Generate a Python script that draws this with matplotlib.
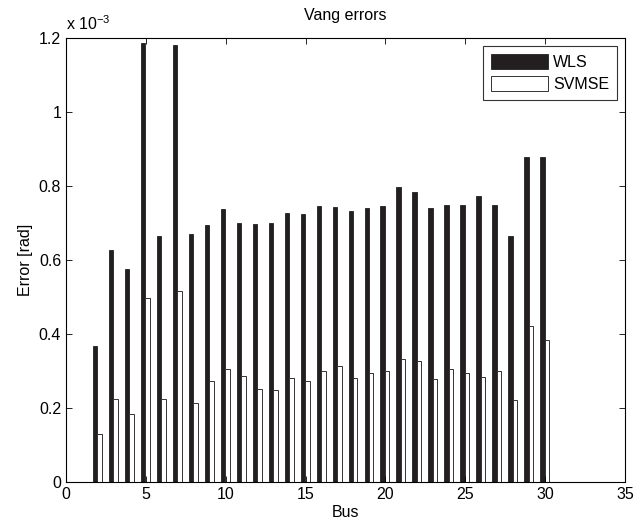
import numpy as np
import matplotlib
matplotlib.use("Agg")
import matplotlib.pyplot as plt

plt.rcParams['font.family'] = ['Liberation Sans', 'DejaVu Sans']

# bus numbers and angle errors (x 1e-3 rad)
bus = list(range(1, 31))
wls = [0.0, 0.367, 0.628, 0.577, 1.187, 0.665, 1.180, 0.670, 0.695, 0.737,
       0.700, 0.697, 0.700, 0.727, 0.724, 0.745, 0.743, 0.732, 0.740, 0.745,
       0.797, 0.783, 0.740, 0.748, 0.748, 0.772, 0.748, 0.665, 0.878, 0.878]
svmse = [0.0, 0.130, 0.224, 0.183, 0.497, 0.224, 0.516, 0.213, 0.273, 0.305,
         0.286, 0.251, 0.249, 0.281, 0.273, 0.300, 0.313, 0.281, 0.294, 0.300,
         0.332, 0.327, 0.278, 0.305, 0.294, 0.284, 0.300, 0.222, 0.422, 0.384]

x = np.array(bus)
w = 0.28
fs = 11.5

fig = plt.figure(figsize=(6.36, 5.26), dpi=100)
ax = fig.add_axes([66/636, 44/526, 559/636, 444/526])

ax.bar(x - w/2 - 0.03, np.array(wls) * 1e-3, width=w, color='#231f20', edgecolor='#231f20',
       linewidth=0.6, label='WLS')
ax.bar(x + w/2 - 0.03, np.array(svmse) * 1e-3, width=w, color='white', edgecolor='#333333',
       linewidth=0.7, label='SVMSE')

ax.set_xlim(0, 35)
ax.set_ylim(0, 1.2e-3)
ax.set_xticks(range(0, 36, 5))
yt = np.arange(0, 1.21, 0.2)
ax.set_yticks(yt * 1e-3)
ax.set_yticklabels(['0' if v == 0 else '{:g}'.format(round(v, 1)) for v in yt])
ax.tick_params(direction='in', top=True, right=True, labelsize=fs, length=4, width=0.6)
for s in ax.spines.values():
    s.set_linewidth(0.8)

ax.set_xlabel('Bus', fontsize=fs, labelpad=2)
ax.set_ylabel('Error [rad]', fontsize=fs, labelpad=4)
ax.set_title('Vang errors', fontsize=fs, pad=13)
ax.text(0, 1.012, r'x 10$^{\mathregular{-3}}$', transform=ax.transAxes, fontsize=fs,
        ha='left', va='bottom')

leg = ax.legend(loc='upper right', fontsize=fs, fancybox=False, edgecolor='black',
                handlelength=3.6, handleheight=1.05, borderaxespad=0.5,
                labelspacing=0.4, handletextpad=0.3, borderpad=0.5)
leg.get_frame().set_linewidth(0.8)

fig.savefig('out.png', dpi=100)
